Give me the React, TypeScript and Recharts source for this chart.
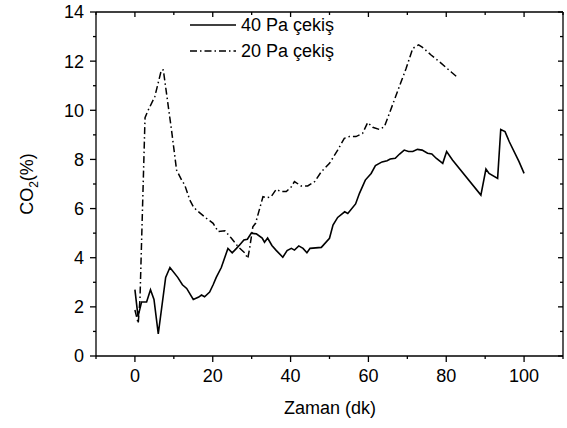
import React from "react";
import { LineChart, Line, XAxis, YAxis } from "recharts";

// 40 Pa draught (solid line)
const pa40Time = [0, 0.8, 1.7, 3, 4, 4.9, 6, 7.9, 9, 11, 12.2, 13.3, 15, 16.4, 17.1, 17.9, 19.2, 20.1, 20.9, 22.2, 23.9, 25, 26.1, 26.9, 28, 28.9, 29.9, 31.2, 32.7, 33.3, 34.1, 35.2, 36.3, 38, 39.1, 40.2, 41, 42.1, 43.2, 44.2, 45, 47.9, 50, 50.9, 52.1, 53.9, 54.7, 56.7, 57.7, 59.2, 60.7, 61.8, 63.5, 64.8, 65.6, 66.9, 68, 69.2, 70.3, 71.4, 72.6, 73.8, 75.2, 76.3, 77.4, 79.1, 80.1, 81.6, 88.9, 90.2, 91, 93.2, 94, 95.1, 96.2, 98.7, 100];
const pa40Co2 = [2.7, 1.6, 2.2, 2.2, 2.7, 2.3, 0.9, 3.2, 3.6, 3.2, 2.9, 2.75, 2.3, 2.4, 2.48, 2.41, 2.6, 2.9, 3.2, 3.6, 4.38, 4.2, 4.38, 4.52, 4.72, 4.75, 5.0, 4.97, 4.8, 4.63, 4.8, 4.5, 4.3, 4.02, 4.29, 4.38, 4.31, 4.48, 4.38, 4.2, 4.38, 4.42, 4.79, 5.33, 5.64, 5.87, 5.8, 6.19, 6.62, 7.16, 7.43, 7.75, 7.9, 7.95, 8.02, 8.05, 8.22, 8.38, 8.32, 8.32, 8.41, 8.38, 8.25, 8.22, 8.05, 7.84, 8.32, 7.98, 6.55, 7.61, 7.43, 7.23, 9.22, 9.13, 8.72, 7.91, 7.43];

// 20 Pa draught (dash-dot line)
const pa20Time = [0, 0.85, 1.3, 2.6, 3.4, 5.1, 6.8, 7.3, 9.4, 10.7, 12, 12.8, 14.1, 15, 15.8, 18.4, 20.1, 21.4, 23.1, 24.8, 26.5, 28.2, 29, 29.5, 30.3, 31, 32.9, 33.8, 35, 36.3, 37.6, 38.9, 40.2, 41, 42.7, 44.4, 46.2, 47.9, 50, 52.1, 53.8, 55.1, 56.8, 58.5, 59.8, 61.1, 62.8, 64.1, 66.2, 68.4, 69.7, 71.4, 72.9, 73.9, 76.1, 78.2, 81.2, 82.9];
const pa20Co2 = [1.87, 1.33, 2.3, 9.7, 10.0, 10.55, 11.64, 11.64, 9.2, 7.57, 7.16, 6.96, 6.35, 6.08, 5.94, 5.6, 5.4, 5.06, 5.1, 4.79, 4.45, 4.2, 3.97, 4.4, 5.26, 5.4, 6.48, 6.44, 6.48, 6.78, 6.69, 6.69, 6.89, 7.1, 6.92, 6.92, 7.1, 7.5, 7.84, 8.38, 8.86, 8.93, 8.93, 9.06, 9.5, 9.31, 9.22, 9.33, 10.22, 11.16, 11.71, 12.52, 12.66, 12.56, 12.25, 11.98, 11.57, 11.34];

const xTicks = [-10, 0, 10, 20, 30, 40, 50, 60, 70, 80, 90, 100, 110];
const yTicks = [0, 1, 2, 3, 4, 5, 6, 7, 8, 9, 10, 11, 12, 13, 14];

const seriesNames = ["40 Pa çekiş", "20 Pa çekiş"];

const pa40 = pa40Time.map((t, i) => ({ t, co2: pa40Co2[i] }));
const pa20 = pa20Time.map((t, i) => ({ t, co2: pa20Co2[i] }));

const font = "'Liberation Sans', Arial, sans-serif";
const fontSize = 18;
const dashDot = "7 3 1.5 3";

const BottomTick = (props: any) => {
  const { x, y, payload } = props;
  const v = payload.value;
  const major = v % 20 === 0;
  return (
    <g>
      <line x1={x} x2={x} y1={y} y2={y + (major ? 6 : 3)} stroke="#000" strokeWidth={1.3} />
      {major && v >= 0 && v <= 100 && (
        <text x={x} y={y + 26} textAnchor="middle" fontFamily={font} fontSize={fontSize} fill="#000">
          {v}
        </text>
      )}
    </g>
  );
};

const TopTick = (props: any) => {
  const { x, y, payload } = props;
  const major = payload.value % 20 === 0;
  return <line x1={x} x2={x} y1={y} y2={y + (major ? 5 : 3)} stroke="#000" strokeWidth={1.3} />;
};

const LeftTick = (props: any) => {
  const { x, y, payload } = props;
  const v = payload.value;
  const major = v % 2 === 0;
  return (
    <g>
      <line x1={x - (major ? 6 : 3)} x2={x} y1={y} y2={y} stroke="#000" strokeWidth={1.3} />
      {major && (
        <text x={x - 12} y={y} dy="0.36em" textAnchor="end" fontFamily={font} fontSize={fontSize} fill="#000">
          {v}
        </text>
      )}
    </g>
  );
};

const RightTick = (props: any) => {
  const { x, y, payload } = props;
  const major = payload.value % 2 === 0;
  return <line x1={x - (major ? 5 : 3)} x2={x} y1={y} y2={y} stroke="#000" strokeWidth={1.3} />;
};

const axisLine = { stroke: "#000", strokeWidth: 1.3 };

export default function App() {
  return (
    <div style={{ position: "absolute", left: 0, top: 0, width: 567, height: 428, background: "#fff" }}>
      <LineChart width={567} height={428} margin={{ top: 11, right: 3, bottom: 0, left: 0 }}>
        <XAxis xAxisId="b" type="number" dataKey="t" domain={[-10, 110]} ticks={xTicks} interval={0}
          orientation="bottom" height={72} tickLine={false} tickSize={0} tickMargin={0}
          tick={<BottomTick />} axisLine={axisLine} allowDataOverflow />
        <XAxis xAxisId="t" type="number" dataKey="t" domain={[-10, 110]} ticks={xTicks} interval={0}
          orientation="top" height={1} tickLine={false} tickSize={0} tickMargin={0}
          tick={<TopTick />} axisLine={axisLine} allowDataOverflow />
        <YAxis yAxisId="l" type="number" domain={[0, 14]} ticks={yTicks} interval={0} width={96}
          tickLine={false} tickSize={0} tickMargin={0} tick={<LeftTick />} axisLine={axisLine} allowDataOverflow />
        <YAxis yAxisId="r" orientation="right" type="number" domain={[0, 14]} ticks={yTicks} interval={0} width={1}
          tickLine={false} tickSize={0} tickMargin={0} tick={<RightTick />} axisLine={axisLine} allowDataOverflow />
        <Line xAxisId="b" yAxisId="l" data={pa40} dataKey="co2" name={seriesNames[0]} type="linear"
          stroke="#000" strokeWidth={1.6} dot={false} isAnimationActive={false} />
        <Line xAxisId="b" yAxisId="l" data={pa20} dataKey="co2" name={seriesNames[1]} type="linear"
          stroke="#000" strokeWidth={1.5} strokeDasharray={dashDot} dot={false} isAnimationActive={false} />
      </LineChart>
      <svg width={567} height={428} style={{ position: "absolute", left: 0, top: 0, pointerEvents: "none" }}>
        <g fontFamily={font} fontSize={fontSize} fill="#000">
          <line x1={190} x2={236} y1={25} y2={25} stroke="#000" strokeWidth={1.6} />
          <text x={241} y={25} dy="0.36em">{seriesNames[0]}</text>
          <line x1={190} x2={236} y1={51} y2={51} stroke="#000" strokeWidth={1.5} strokeDasharray={dashDot} />
          <text x={241} y={51} dy="0.36em">{seriesNames[1]}</text>
          <text x={330} y={414} textAnchor="middle">Zaman (dk)</text>
          <text transform="translate(33,184) rotate(-90)" textAnchor="middle">
            CO<tspan fontSize={12} dy={5}>2</tspan><tspan dy={-5}>(%)</tspan>
          </text>
        </g>
      </svg>
    </div>
  );
}
